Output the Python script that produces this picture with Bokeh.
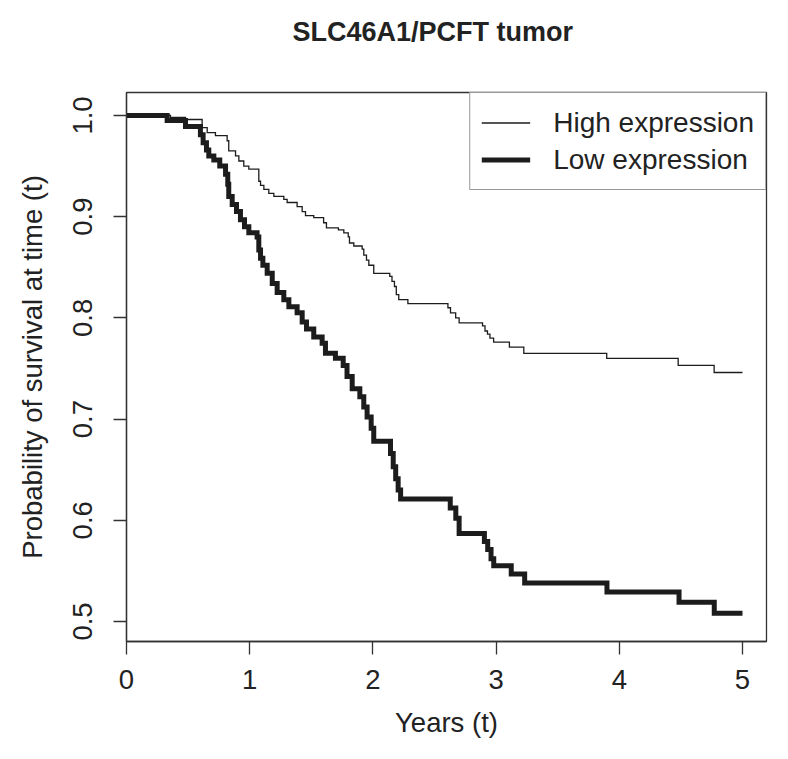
from bokeh.plotting import figure
from bokeh.models import Range1d, FixedTicker, PrintfTickFormatter, Legend, LegendItem, Title
from bokeh.embed import file_html
from bokeh.resources import INLINE

# Kaplan-Meier step data (time in years, survival probability)
high_t = [0, 0.357, 0.479, 0.614, 0.655, 0.722, 0.817, 0.83, 0.885, 0.912, 0.952, 0.993,
          1.074, 1.088, 1.115, 1.155, 1.196, 1.277, 1.304, 1.385, 1.426, 1.453, 1.52, 1.60,
          1.623, 1.72, 1.764, 1.80, 1.81, 1.845, 1.913, 1.926, 1.948, 1.967, 2.007, 2.137,
          2.155, 2.175, 2.19, 2.21, 2.284, 2.609, 2.63, 2.672, 2.70, 2.89, 2.91, 2.93, 2.95,
          2.98, 3.108, 3.225, 3.898, 4.478, 4.77, 5.0]
high_s = [1.0, 0.998, 0.996, 0.988, 0.983, 0.980, 0.975, 0.965, 0.960, 0.955, 0.950, 0.947,
          0.935, 0.931, 0.927, 0.923, 0.920, 0.917, 0.914, 0.910, 0.905, 0.901, 0.899, 0.894,
          0.889, 0.887, 0.884, 0.880, 0.874, 0.871, 0.868, 0.862, 0.857, 0.852, 0.844, 0.841,
          0.836, 0.831, 0.823, 0.818, 0.814, 0.810, 0.805, 0.800, 0.795, 0.792, 0.787, 0.784,
          0.780, 0.776, 0.771, 0.765, 0.760, 0.753, 0.746, 0.746]

low_t = [0, 0.33, 0.479, 0.60, 0.622, 0.649, 0.668, 0.709, 0.757, 0.804, 0.822, 0.83, 0.858,
         0.893, 0.925, 0.958, 0.993, 1.06, 1.074, 1.088, 1.107, 1.142, 1.183, 1.223, 1.277,
         1.318, 1.385, 1.426, 1.461, 1.52, 1.588, 1.615, 1.696, 1.759, 1.79, 1.832, 1.894,
         1.926, 1.953, 1.986, 2.007, 2.143, 2.165, 2.185, 2.205, 2.225, 2.628, 2.673, 2.70,
         2.905, 2.932, 2.959, 2.981, 3.123, 3.232, 3.90, 4.485, 4.771, 5.0]
low_s = [1.0, 0.995, 0.989, 0.981, 0.973, 0.966, 0.960, 0.956, 0.950, 0.942, 0.932, 0.920,
         0.912, 0.905, 0.897, 0.890, 0.884, 0.880, 0.867, 0.859, 0.852, 0.844, 0.834, 0.825,
         0.818, 0.811, 0.805, 0.796, 0.789, 0.781, 0.775, 0.765, 0.760, 0.753, 0.742, 0.730,
         0.722, 0.712, 0.702, 0.691, 0.678, 0.666, 0.653, 0.641, 0.630, 0.621, 0.612, 0.602,
         0.587, 0.579, 0.571, 0.562, 0.555, 0.547, 0.538, 0.529, 0.519, 0.508, 0.508]

x_ticks = [0, 1, 2, 3, 4, 5]
y_ticks = [0.5, 0.6, 0.7, 0.8, 0.9, 1.0]
series_labels = ["High expression", "Low expression"]
title_text = "SLC46A1/PCFT tumor"

FONT = "Liberation Sans"
TXT = "#222222"
LINE = "#1c1c1c"

p = figure(width=772, height=743, output_backend="svg", toolbar_location=None,
           x_range=Range1d(0, 5.195), y_range=Range1d(0.4802, 1.0227),
           min_border_left=126, min_border_right=6, min_border_top=92, min_border_bottom=102,
           title_location=None,
           background_fill_color="white", border_fill_color="white")

# an empty spacer panel next to the frame, then the real title above it
p.add_layout(Title(text=" ", text_font_size="10px", standoff=28), "above")
p.add_layout(Title(text=title_text, text_font=FONT, text_font_size="27px",
                   text_font_style="bold", text_color=TXT, align="left", offset=166,
                   vertical_align="bottom", standoff=10), "above")

p.grid.visible = False
p.outline_line_color = "#333333"
p.outline_line_width = 1.3
p.outline_line_alpha = 1

r_high = p.step(high_t, high_s, mode="after", line_width=1.3, line_color=LINE, line_join="miter")
r_low = p.step(low_t, low_s, mode="after", line_width=5, line_color=LINE, line_join="miter")

for ax, ticks in ((p.xaxis[0], x_ticks), (p.yaxis[0], y_ticks)):
    ax.ticker = FixedTicker(ticks=ticks)
    ax.minor_tick_line_color = None
    ax.major_tick_in = 0
    ax.major_tick_out = 13
    ax.major_tick_line_color = "#333333"
    ax.major_tick_line_width = 1.3
    ax.axis_line_color = "#333333"
    ax.axis_line_width = 1.3
    ax.major_label_text_font = FONT
    ax.major_label_text_font_size = "27.5px"
    ax.major_label_text_color = TXT
    ax.axis_label_text_font = FONT
    ax.axis_label_text_font_size = "27.5px"
    ax.axis_label_text_font_style = "normal"
    ax.axis_label_text_color = TXT

p.xaxis[0].axis_label = "Years (t)"
p.xaxis[0].major_label_standoff = 15
p.xaxis[0].axis_label_standoff = 15
p.yaxis[0].axis_label = "Probability of survival at time (t)"
p.yaxis[0].formatter = PrintfTickFormatter(format="%.1f")
p.yaxis[0].major_label_orientation = "vertical"
p.yaxis[0].major_label_standoff = 21
p.yaxis[0].axis_label_standoff = 23

legend = Legend(items=[LegendItem(label=series_labels[0], renderers=[r_high]),
                       LegendItem(label=series_labels[1], renderers=[r_low])],
                location="top_right", margin=0, padding=11, spacing=0,
                glyph_width=49, glyph_height=37, label_height=37, label_standoff=23,
                label_text_font=FONT, label_text_font_size="28px", label_text_color=TXT,
                border_line_color="#333333", border_line_width=1.3,
                background_fill_color="white", background_fill_alpha=1)
p.add_layout(legend)

open("out.html", "w").write(file_html(p, INLINE))
